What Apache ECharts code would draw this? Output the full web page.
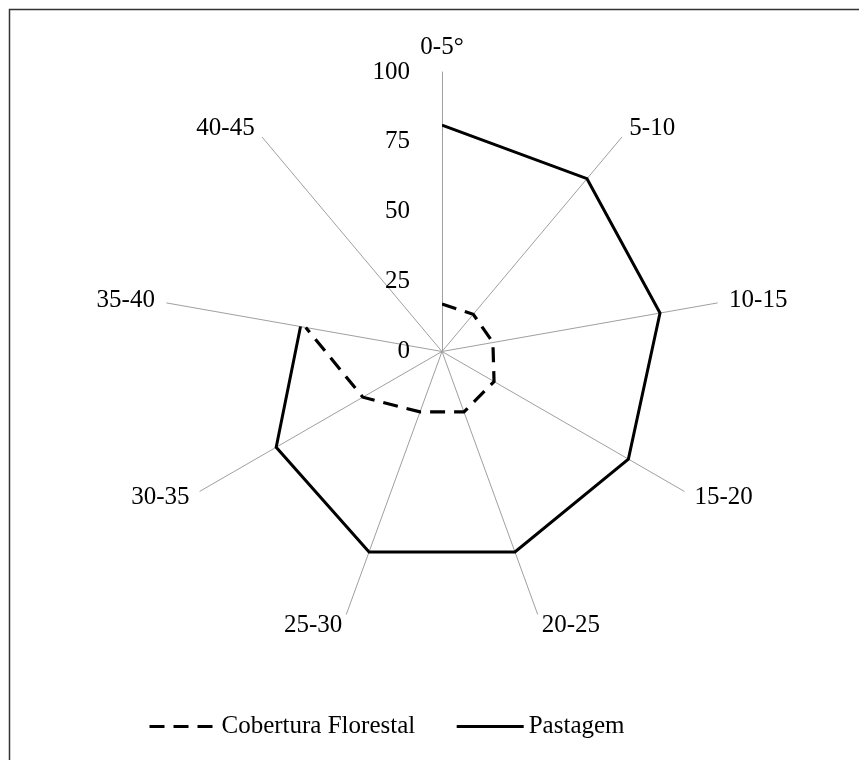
<!DOCTYPE html>
<html><head><meta charset="utf-8">
<script src="https://cdn.jsdelivr.net/npm/echarts@6/dist/echarts.min.js"></script>
<style>html,body{margin:0;padding:0;background:#fff}#c{width:859px;height:760px}</style>
</head><body><div id="c"></div>
<script>
const categories = ['0-5°', '5-10', '10-15', '15-20', '20-25', '25-30', '30-35', '35-40', '40-45'];
const coberturaFlorestal = [17, 17.4, 18.5, 21.5, 23, 23, 32.7, 49.5, null];
const pastagem = [81, 80.7, 79.2, 77, 76.3, 76.3, 68.5, 51.4, null];
const radiusMin = 0, radiusMax = 100, radiusStep = 25;

const FONT = 'Liberation Serif';
const CENTER = [442, 351.5];
const RADIUS = 279.5;

// radar component (only for spokes & names) runs counter-clockwise: reorder
const radarOrder = [0].concat(categories.slice(1).map((_, i) => categories.length - 1 - i));
const indicator = radarOrder.map(i => ({ name: categories[i], min: radiusMin, max: radiusMax }));

const chart = echarts.init(document.getElementById('c'), null, { renderer: 'canvas' });
chart.setOption({
  animation: false,
  backgroundColor: '#fff',
  graphic: [{
    type: 'rect', z: -10, silent: true,
    shape: { x: 9.5, y: 9.5, width: 900, height: 800 },
    style: { fill: 'none', stroke: '#333', lineWidth: 1.5 }
  }],
  radar: {
    center: CENTER, radius: RADIUS, startAngle: 90,
    indicator: indicator,
    splitNumber: 4,
    nameGap: 12,
    axisName: { color: '#000', fontSize: 25, fontFamily: FONT },
    axisLine: { lineStyle: { color: '#A0A0A0', width: 1 } },
    axisTick: { show: false },
    axisLabel: { show: false },
    splitLine: { show: false },
    splitArea: { show: false }
  },
  polar: { center: CENTER, radius: RADIUS },
  angleAxis: {
    type: 'category', data: categories, boundaryGap: false,
    startAngle: 90, clockwise: true,
    axisLine: { show: false }, axisTick: { show: false },
    axisLabel: { show: false }, splitLine: { show: false }
  },
  radiusAxis: {
    type: 'value', min: radiusMin, max: radiusMax, interval: radiusStep,
    axisLine: { show: false }, axisTick: { show: false }, splitLine: { show: false },
    axisLabel: { fontSize: 25, fontFamily: FONT, color: '#000', margin: 32 }
  },
  legend: {
    data: ['Cobertura Florestal', 'Pastagem'],
    left: 148, top: 714, padding: 0,
    itemWidth: 67, itemHeight: 14, itemGap: 40,
    itemStyle: { opacity: 0, borderWidth: 0 },
    lineStyle: { width: 3, color: '#000' },
    textStyle: { fontSize: 25, fontFamily: FONT, color: '#000' }
  },
  series: [
    {
      name: 'Cobertura Florestal', type: 'line', coordinateSystem: 'polar',
      data: coberturaFlorestal, symbol: 'none', connectNulls: false, z: 5,
      lineStyle: { color: '#000', width: 3.2, type: [15, 9], cap: 'butt', join: 'miter' },
      itemStyle: { color: '#000' }
    },
    {
      name: 'Pastagem', type: 'line', coordinateSystem: 'polar',
      data: pastagem, symbol: 'none', connectNulls: false, z: 5,
      lineStyle: { color: '#000', width: 3, type: 'solid', join: 'miter' },
      itemStyle: { color: '#000' }
    }
  ]
});
</script>
</body></html>
